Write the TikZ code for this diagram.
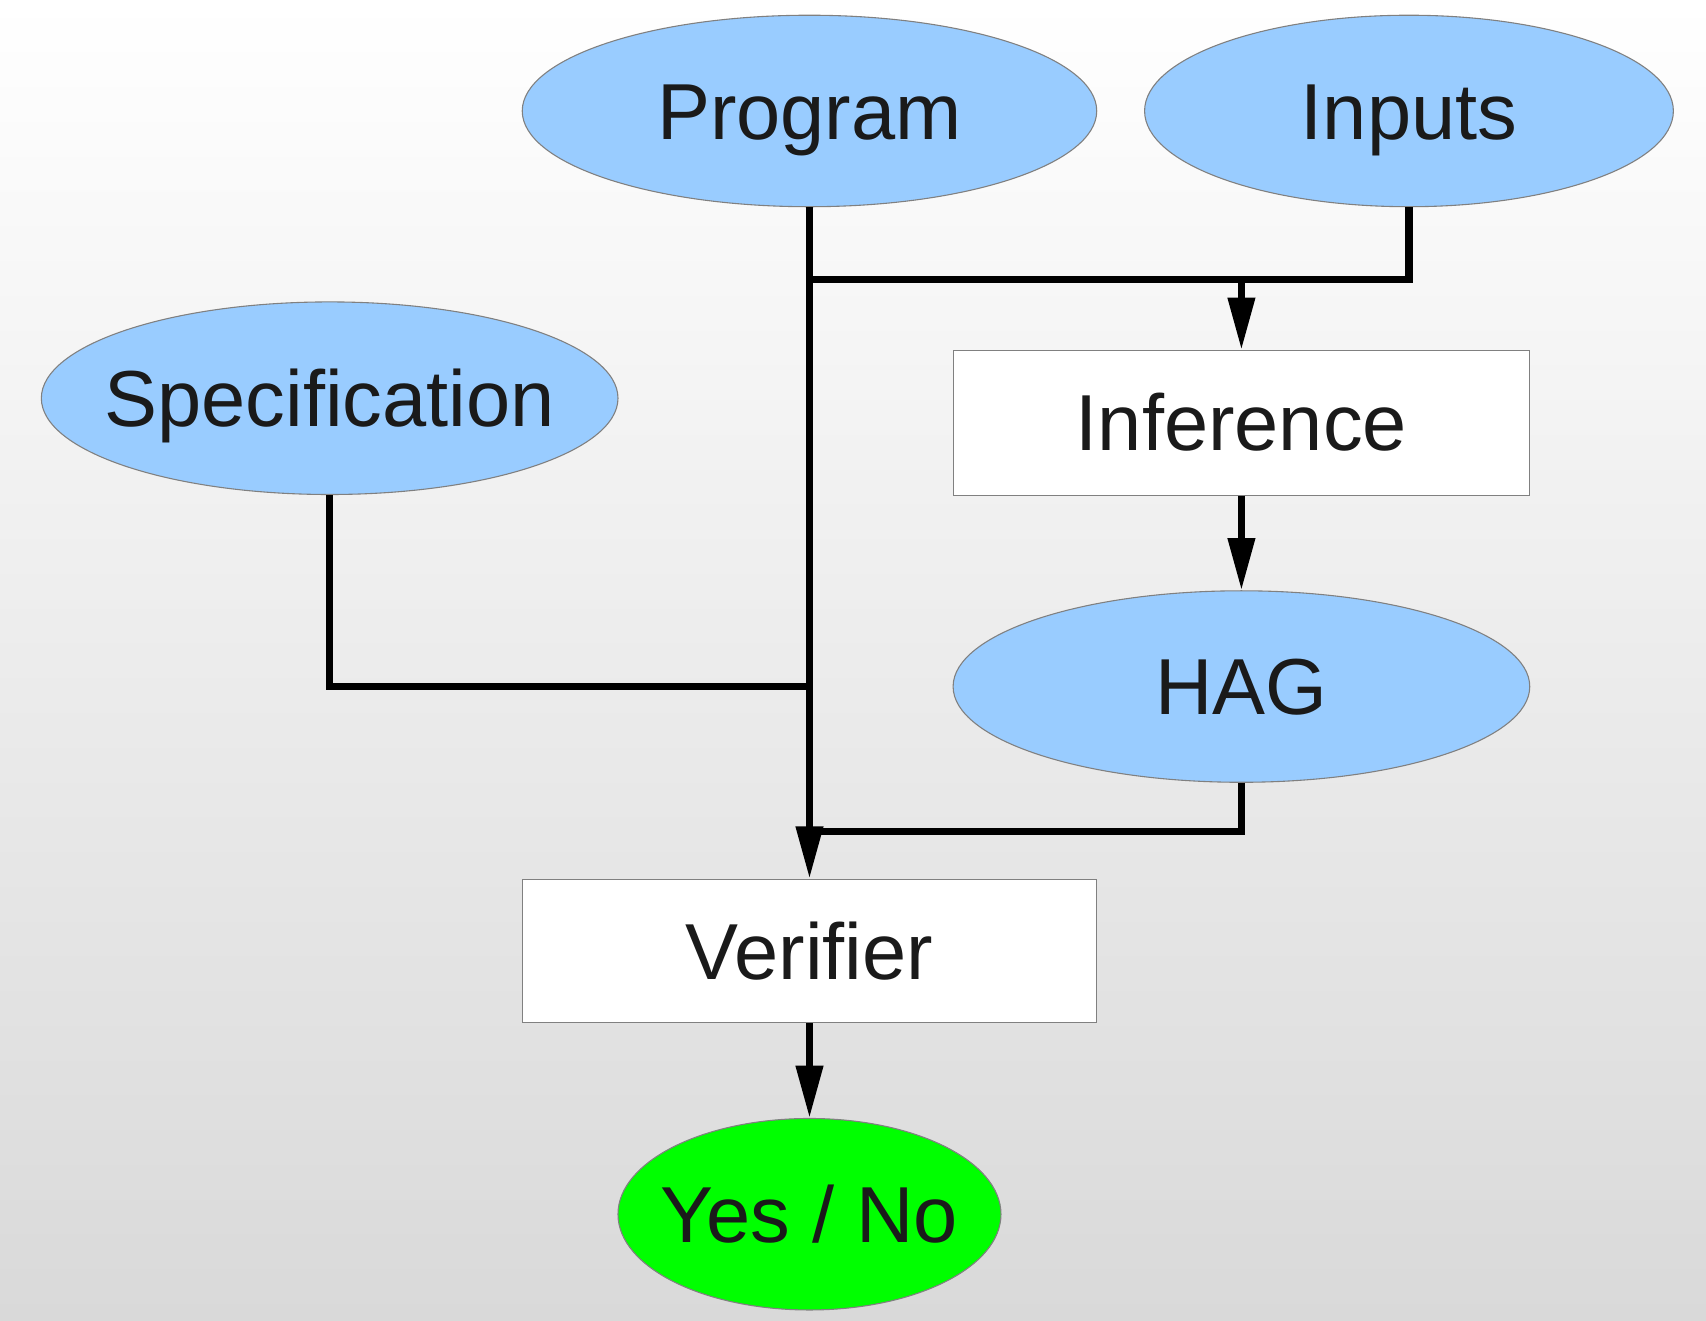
\documentclass[tikz,border=0pt]{standalone}
\usepackage{fontspec}
\setmainfont{Liberation Sans}
\usetikzlibrary{shapes.geometric,arrows.meta}
\definecolor{skyfill}{HTML}{99CCFF}
\definecolor{okfill}{HTML}{00FF00}
\definecolor{edgegray}{HTML}{808080}
\definecolor{txt}{HTML}{1A1A1A}
\definecolor{bgbottom}{HTML}{D9D9D9}
% zero-width label box so the shape size comes only from minimum width/height
\newcommand{\flatlabel}[1]{\makebox[0pt]{#1}}
\tikzset{
  label font/.style={font=\fontsize{73}{80}\selectfont, text=txt,
    text height=52pt, text depth=0pt},
  oval/.style={ellipse, draw=edgegray, line width=1pt, fill=skyfill, inner sep=0pt, label font},
  okoval/.style={oval, fill=okfill},
  stage/.style={rectangle, draw=edgegray, line width=1pt, fill=white, inner sep=0pt, label font},
  flow/.style={line width=6.5pt, draw=black},
  flowarrow/.style={flow, -{Triangle[length=48pt,width=24pt]}},
}
\begin{document}
\begin{tikzpicture}[x=1pt,y=-1pt]
  % background with a soft vertical gradient
  \shade[top color=white, bottom color=bgbottom] (0,0) rectangle (1568,1214);
  \useasboundingbox (0,0) rectangle (1568,1214);

  % nodes
  \node[oval, minimum width=528pt, minimum height=176pt] (program) at (744,102) {\flatlabel{Program}};
  \node[oval, minimum width=486pt, minimum height=176pt] (inputs) at (1295,102) {\flatlabel{Inputs}};
  \node[oval, minimum width=530pt, minimum height=177pt] (spec) at (303,366) {\flatlabel{Specification}};
  \node[stage, minimum width=530pt, minimum height=133pt] (inference) at (1141,388.5) {\flatlabel{Inference}};
  \node[oval, minimum width=530pt, minimum height=176pt] (hag) at (1141,631) {\flatlabel{HAG}};
  \node[stage, minimum width=528pt, minimum height=132pt] (verifier) at (744,874) {\flatlabel{Verifier}};
  \node[okoval, minimum width=352pt, minimum height=176pt] (result) at (744,1116) {\flatlabel{Yes / No}};

  % junction points on the connectors
  \coordinate (topjoin) at (744,257);
  \coordinate (infjoin) at (1141,257);
  \coordinate (specjoin) at (744,631);
  \coordinate (hagjoin) at (744,764);

  % connectors
  \draw[flowarrow] (program.south) -- (verifier.north);
  \draw[flow, line join=miter] (inputs.south) |- (topjoin);
  \draw[flowarrow] (infjoin) -- (inference.north);
  \draw[flow, line join=miter] (spec.south) |- (specjoin);
  \draw[flowarrow] (inference.south) -- (hag.north);
  \draw[flow, line join=miter] (hag.south) |- (hagjoin);
  \draw[flowarrow] (verifier.south) -- (result.north);
\end{tikzpicture}
\end{document}
